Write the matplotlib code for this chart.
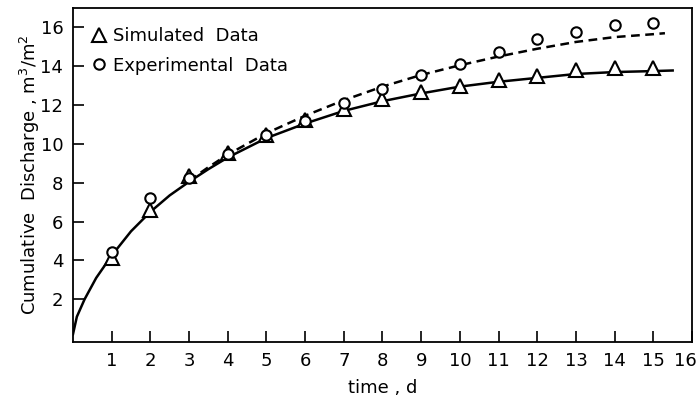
import matplotlib.pyplot as plt
from matplotlib.transforms import ScaledTranslation

# measured points (day, m3/m2)
days = [1, 2, 3, 4, 5, 6, 7, 8, 9, 10, 11, 12, 13, 14, 15]
simulated = [4.1, 6.6, 8.35, 9.55, 10.45, 11.25, 11.8, 12.3, 12.67, 13.0, 13.3, 13.5, 13.8, 13.9, 13.9]
experimental = [4.45, 7.2, 8.25, 9.5, 10.45, 11.2, 12.1, 12.85, 13.55, 14.1, 14.75, 15.4, 15.75, 16.1, 16.22]

# fitted curves
sim_curve_t = [0, 0.1, 0.3, 0.6, 1, 1.5, 2, 2.5, 3, 3.5, 4, 5, 6, 7, 8, 9, 10, 11, 12, 13, 14, 15, 15.5]
sim_curve_y = [0.2, 1.1, 2.0, 3.1, 4.25, 5.5, 6.5, 7.35, 8.05, 8.7, 9.3, 10.3, 11.05, 11.7, 12.2,
               12.6, 12.95, 13.2, 13.4, 13.6, 13.7, 13.75, 13.78]
exp_curve_t = [3, 3.5, 4, 5, 6, 7, 8, 9, 10, 11, 12, 13, 14, 15, 15.3]
exp_curve_y = [8.1, 8.8, 9.45, 10.55, 11.45, 12.25, 12.95, 13.55, 14.05, 14.5, 14.9, 15.25, 15.5, 15.65, 15.7]

plt.rcParams['font.family'] = 'DejaVu Sans'
plt.rcParams['font.size'] = 13

fig = plt.figure(figsize=(6.99, 3.98), dpi=100)
ax = fig.add_axes([0.1044, 0.1407, 0.8856, 0.8393])

ax.plot(sim_curve_t, sim_curve_y, color='black', lw=1.8)
ax.plot(exp_curve_t, exp_curve_y, color='black', lw=1.8, dashes=(3.5, 2.2))
ax.plot(days, simulated, ls='none', marker='^', ms=10.5, mfc='white', mec='black', mew=1.5,
        label='Simulated  Data')
ax.plot(days, experimental, ls='none', marker='o', ms=7.5, mfc='white', mec='black', mew=1.5,
        label='Experimental  Data')

ax.set_xlim(0, 16)
ax.set_ylim(-0.2, 17.0)
ax.set_xticks(range(1, 17))
ax.set_yticks(range(2, 17, 2))
ax.tick_params(direction='in', length=8, width=1.2, pad=7)
for s in ax.spines.values():
    s.set_linewidth(1.3)

# pull the last x label in so it stays inside the figure
last = ax.get_xticklabels()[-1]
last.set_transform(last.get_transform() + ScaledTranslation(-5 / 72, 0, fig.dpi_scale_trans))

ax.set_xlabel('time , d', labelpad=7)
ax.set_ylabel('Cumulative  Discharge , m$^3$/m$^2$', labelpad=-1)

ax.legend(loc='upper left', bbox_to_anchor=(0.0, 1.0), frameon=False, handlelength=0.8,
          handletextpad=0.35, labelspacing=0.65, borderaxespad=0.65, borderpad=0.4)

fig.savefig('out.png', dpi=100)
